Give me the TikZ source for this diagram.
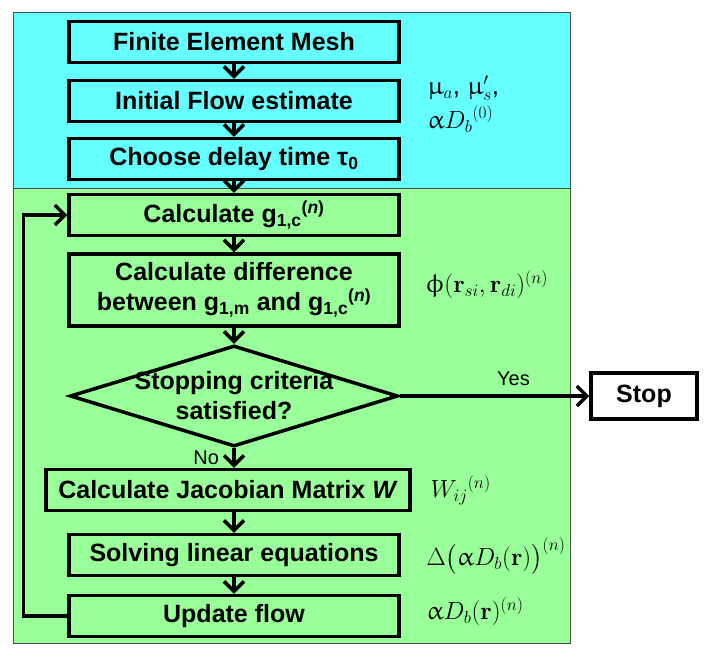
\documentclass[tikz,border=0pt]{standalone}
\usepackage{amsmath}
\usepackage{upgreek}
\usepackage[no-math]{fontspec}
\setmainfont{Liberation Sans}
\usepackage{tikz}
\usetikzlibrary{arrows.meta,shapes.geometric}
\definecolor{topcyan}{RGB}{102,255,255}
\definecolor{loopgreen}{RGB}{153,255,153}
\newcommand{\gcalc}{g\textsubscript{1,c}\textsuperscript{(\textit{n})}}

\begin{document}
\begin{tikzpicture}[x=1pt,y=-1pt,>={Straight Barb[length=10pt,width=20pt]},
every node/.style={font=\fontsize{25}{30}\selectfont\bfseries},
box/.style={draw,line width=3.5pt,minimum width=330pt,minimum height=41pt,inner sep=0pt,align=center},
flow/.style={->,line width=3.5pt},
note/.style={anchor=west,font=\fontsize{26}{34}\selectfont,align=left},
answer/.style={font=\fontsize{20}{24}\selectfont}]
\useasboundingbox (0,0) rectangle (709,657);

%background of the two stages
\fill[topcyan] (13,12) rectangle (570,188);
\fill[loopgreen] (13,188) rectangle (570,643);
\draw[black!70,line width=0.8pt] (13,12) rectangle (570,643) (13,188) -- (570,188);

%steps
\node[box] (m) at (234,42) {Finite Element Mesh};
\node[box] (f) at (234,101) {Initial Flow estimate};
\node[box] (t) at (234,159) {Choose delay time τ\textsubscript{0}};
\node[box] (g) at (234,215) {Calculate \gcalc};
\node[box,minimum height=72pt] (diff) at (234,290) {Calculate difference\\between g\textsubscript{1,m} and \gcalc};
\node[diamond,draw,line width=3.5pt,minimum width=328pt,minimum height=101pt,inner sep=0pt] (crit) at (234,396) {};
\node[align=center] (critext) at (crit) {Stopping criteria\\satisfied?};
\node[box,minimum width=364pt] (jac) at (228,490) {Calculate Jacobian Matrix \textit{W}};
\node[box] (lin) at (234,555) {Solving linear equations};
\node[box] (upd) at (234,616) {Update flow};
\node[box,fill=white,minimum width=106pt,minimum height=46pt] (stop) at (644,396) {Stop};

%quantities next to the steps
\node[note] (n1) at (424,104) {$\upmu_a$, $\upmu'_s$,\\$\upalpha {D_b}^{(0)}$};
\node[note] (n2) at (422,285) {$\upphi(\mathbf{r}_{si},\mathbf{r}_{di})^{(n)}$};
\node[note] (n3) at (427,490) {$W_{ij}{}^{(n)}$};
\node[note] (n4) at (423,556) {$\Delta\bigl(\upalpha D_b(\mathbf{r})\bigr)^{(n)}$};
\node[note] (n5) at (423,612) {$\upalpha D_b(\mathbf{r})^{(n)}$};

%arrows down the chain
\foreach \a/\b in {m/f,f/t,t/g,g/diff,diff/crit}
	\draw[flow] (\a) -- (\b);
\draw[flow] (crit.south) -- (crit.south |- jac.north) node[answer,midway,left=10pt] {No};
\draw[flow] (crit.south |- jac.south) -- (crit.south |- lin.north);
\draw[flow] (lin) -- (upd);
\draw[flow] (crit.east) -- (stop.west) node[answer,pos=0.6,above=5pt] {Yes};

%loop back
\draw[flow] (upd.west) -- ++(-44,0) |- (g.west);
\end{tikzpicture}
\end{document}
